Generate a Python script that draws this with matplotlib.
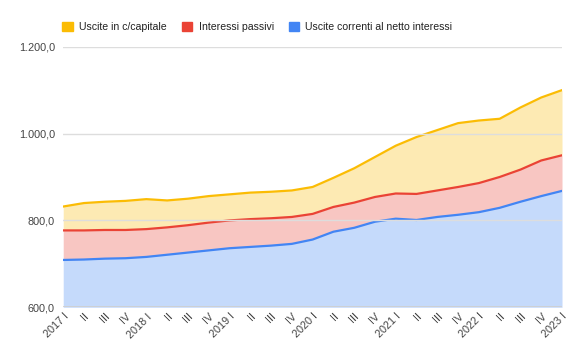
import numpy as np
import matplotlib
matplotlib.use("Agg")
import matplotlib.pyplot as plt
from matplotlib.patches import Patch
from matplotlib.ticker import FuncFormatter

plt.rcParams['font.family'] = ['Liberation Sans', 'DejaVu Sans']

years = ['2017', '2018', '2019', '2020', '2021', '2022', '2023']
quarters = ['I', 'II', 'III', 'IV']

# quarterly series, billions
correnti = [709, 710, 712, 713, 716, 721, 726, 731, 736, 739, 742, 746, 756,
            774, 783, 797, 804, 801, 808, 813, 819, 829, 843, 856, 868]
interessi = [68, 67, 66, 65, 64, 63, 63, 64, 64, 64, 63, 62, 59,
             57, 58, 57, 58, 60, 61, 64, 67, 71, 74, 82, 82]
capitale = [55, 63, 65, 67, 69, 62, 61, 61, 60, 61, 61, 61, 62,
            67, 79, 92, 110, 131, 139, 147, 144, 134, 143, 145, 150]

labels = []
for y in years:
    for q in quarters:
        labels.append(y + ' I' if q == 'I' else q)
labels = labels[:len(correnti)]

names = ['Uscite in c/capitale', 'Interessi passivi', 'Uscite correnti al netto interessi']
line_cols = ['#fbbc04', '#ea4335', '#4285f4']

x = np.arange(len(correnti))
base = np.full(len(x), 600.0)
c1 = np.array(correnti, float)
c2 = c1 + np.array(interessi)
c3 = c2 + np.array(capitale)

fig = plt.figure(figsize=(5.8, 3.59), dpi=100)
ax = fig.add_axes([0.109, 0.144, 0.860, 0.726])

for lo, hi, col in [(base, c1, line_cols[2]), (c1, c2, line_cols[1]), (c2, c3, line_cols[0])]:
    ax.fill_between(x, lo, hi, color=col, alpha=0.3, lw=0)
    ax.plot(x, hi, color=col, lw=1.6, solid_joinstyle='round')

ax.set_xlim(0, len(x) - 1)
ax.set_ylim(600, 1200)
ax.set_yticks([600, 800, 1000, 1200])
ax.yaxis.set_major_formatter(FuncFormatter(
    lambda v, p: '{:,.1f}'.format(v).replace(',', 'X').replace('.', ',').replace('X', '.')))
ax.grid(axis='y', color='#dddddd', lw=1)
ax.set_axisbelow(False)
for s in ax.spines.values():
    s.set_visible(False)
ax.axhline(600, color='#cccccc', lw=1.2)
ax.tick_params(length=0, labelsize=7.8, colors='#444444', pad=6)

ax.set_xticks(x)
ax.set_xticklabels(labels, rotation=45, ha='right', rotation_mode='anchor')
ax.tick_params(axis='x', pad=3)

handles = [Patch(color=c) for c in line_cols]
ax.legend(handles, names, loc='lower left', bbox_to_anchor=(-0.01, 1.04), ncol=3,
          frameon=False, fontsize=7.6, handlelength=1.0, handleheight=1.0,
          handletextpad=0.6, columnspacing=1.4, borderaxespad=0, labelcolor='#222222')

fig.savefig('out.png', dpi=100)
